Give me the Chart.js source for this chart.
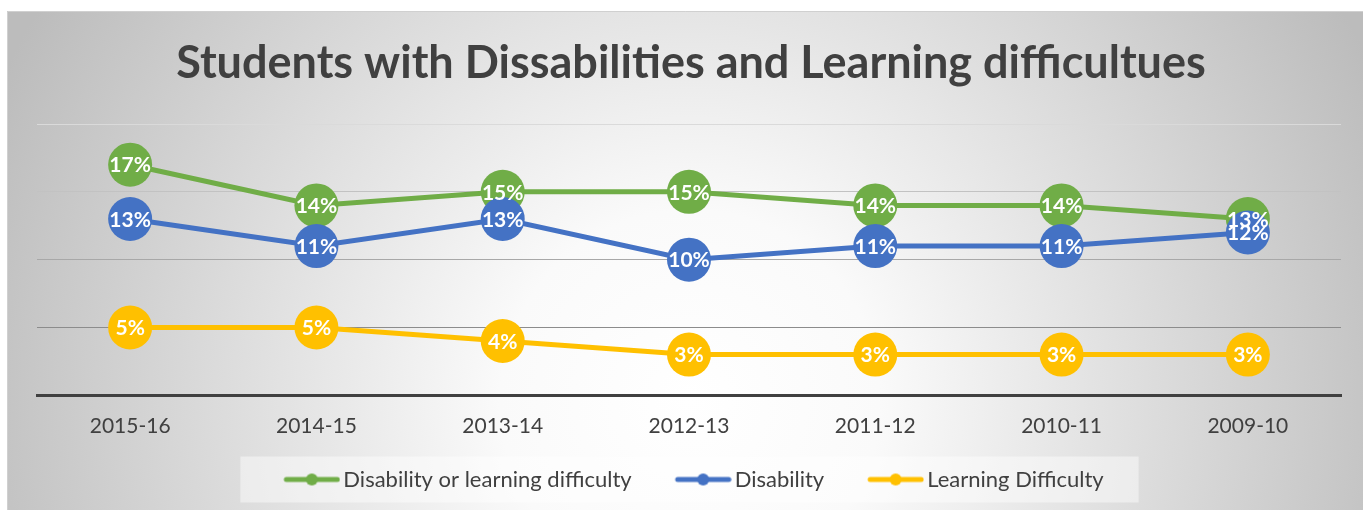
<!DOCTYPE html>
<html>
<head>
<meta charset="utf-8">
<title>Students with Dissabilities and Learning difficultues</title>
<script src="https://cdn.jsdelivr.net/npm/chart.js@4.4.1/dist/chart.umd.min.js"></script>
<style>
  html, body { margin: 0; padding: 0; background: #fff; }
  #wrap { width: 1363px; height: 510px; }
</style>
</head>
<body>
<div id="wrap"><canvas id="lineChart" width="1363" height="510"></canvas></div>
<script>
// chart data
const years = ['2015-16', '2014-15', '2013-14', '2012-13', '2011-12', '2010-11', '2009-10'];
const disabilityOrLearning = [17, 14, 15, 15, 14, 14, 13];
const disability = [13, 11, 13, 10, 11, 11, 12];
const learningDifficulty = [5, 5, 4, 3, 3, 3, 3];
const yTicks = [0, 5, 10, 15, 20];

const GREEN = '#70AD47';
const BLUE = '#4472C4';
const GOLD = '#FFC000';
const TEXT = '#404040';
const FONT = 'Lato';

// legend marker: line with a dot, drawn on the right side of the image
function legendMarker(color) {
    const c = document.createElement('canvas');
    c.width = 96;
    c.height = 14;
    const g = c.getContext('2d');
    g.strokeStyle = color;
    g.lineWidth = 5;
    g.lineCap = 'round';
    g.beginPath();
    g.moveTo(42, 7);
    g.lineTo(93, 7);
    g.stroke();
    g.fillStyle = color;
    g.beginPath();
    g.arc(67.5, 7, 6, 0, Math.PI * 2);
    g.fill();
    return c;
}
const markers = [legendMarker(GREEN), legendMarker(BLUE), legendMarker(GOLD)];

// nudge the legend a little left, like the original
const legendShift = {
    id: 'legendShift',
    afterLayout(chart) {
        const lg = chart.legend;
        const dx = -13;
        lg.left += dx;
        lg.right += dx;
        (lg.legendHitBoxes || []).forEach(b => { b.left += dx; });
    }
};

// gradient backdrop, frame and legend panel
const backdrop = {
    id: 'backdrop',
    beforeDraw(chart) {
        const ctx = chart.ctx;
        const w = chart.width, h = chart.height;
        ctx.save();
        ctx.fillStyle = '#fff';
        ctx.fillRect(0, 0, w, h);
        const grad = ctx.createRadialGradient(690, 400, 0, 690, 400, 760);
        grad.addColorStop(0, '#ffffff');
        grad.addColorStop(0.25, '#fafafa');
        grad.addColorStop(1, '#bcbcbc');
        ctx.fillStyle = grad;
        ctx.fillRect(7, 11, w - 7, h - 11);
        ctx.strokeStyle = '#d0d0d0';
        ctx.lineWidth = 1;
        ctx.beginPath();
        ctx.moveTo(7.5, h);
        ctx.lineTo(7.5, 11.5);
        ctx.lineTo(w, 11.5);
        ctx.stroke();

        const boxes = chart.legend.legendHitBoxes;
        if (boxes && boxes.length) {
            const first = boxes[0], last = boxes[boxes.length - 1];
            const cy = first.top + first.height / 2;
            const left = first.left - 12;
            const right = last.left + last.width + 35;
            ctx.fillStyle = 'rgba(255,255,255,0.45)';
            ctx.fillRect(left, cy - 23, right - left, 46);
        }
        ctx.restore();
    }
};

// white percentage labels inside the markers
const pointLabels = {
    id: 'pointLabels',
    afterDatasetsDraw(chart) {
        const ctx = chart.ctx;
        ctx.save();
        ctx.font = 'bold 21px ' + FONT;
        ctx.fillStyle = '#fff';
        ctx.textAlign = 'center';
        ctx.textBaseline = 'middle';
        chart.data.datasets.forEach((ds, i) => {
            chart.getDatasetMeta(i).data.forEach((pt, j) => {
                ctx.fillText(ds.data[j] + '%', pt.x, pt.y + 1);
            });
        });
        ctx.restore();
    }
};

function series(label, data, color, order) {
    return {
        label: label,
        data: data,
        borderColor: color,
        backgroundColor: color,
        borderWidth: 5,
        tension: 0,
        pointRadius: 22,
        pointHoverRadius: 22,
        pointBorderWidth: 0,
        pointBackgroundColor: color,
        order: order
    };
}

const gridColors = { 0: 'rgba(0,0,0,0)', 5: '#8c8c8c', 10: '#a8a8a8', 15: '#c2c2c2', 20: '#dadada' };

const ctx = document.getElementById('lineChart').getContext('2d');
const chart = new Chart(ctx, {
    type: 'line',
    data: {
        labels: years,
        datasets: [
            series('Disability or learning difficulty', disabilityOrLearning, GREEN, 2),
            series('Disability', disability, BLUE, 1),
            series('Learning Difficulty', learningDifficulty, GOLD, 0)
        ]
    },
    options: {
        responsive: false,
        animation: false,
        events: [],
        layout: {
            padding: { left: 37, right: 18, top: 0, bottom: 9.5 }
        },
        plugins: {
            title: {
                display: true,
                text: 'Students with Dissabilities and Learning difficultues',
                color: TEXT,
                font: { family: FONT, size: 45, weight: 'bold', lineHeight: 1.2 },
                padding: { top: 36, bottom: 34 }
            },
            legend: {
                position: 'bottom',
                labels: {
                    usePointStyle: true,
                    pointStyleWidth: 80,
                    padding: 12,
                    color: TEXT,
                    font: { family: FONT, size: 22 },
                    sort: (a, b) => a.datasetIndex - b.datasetIndex,
                    generateLabels(chart) {
                        const items = Chart.defaults.plugins.legend.labels.generateLabels(chart);
                        items.forEach(item => { item.pointStyle = markers[item.datasetIndex]; });
                        return items;
                    }
                }
            },
            tooltip: { enabled: false }
        },
        scales: {
            x: {
                offset: true,
                grid: { display: false, drawTicks: false },
                border: { display: true, color: TEXT, width: 3 },
                ticks: {
                    color: TEXT,
                    padding: 18,
                    font: { family: FONT, size: 21 }
                }
            },
            y: {
                min: yTicks[0],
                max: yTicks[yTicks.length - 1],
                afterBuildTicks(axis) {
                    axis.ticks = yTicks.map(v => ({ value: v }));
                },
                grid: {
                    drawTicks: false,
                    lineWidth: 1,
                    color: c => gridColors[c.tick.value] || '#c0c0c0'
                },
                border: { display: false },
                ticks: { display: false }
            }
        }
    },
    plugins: [legendShift, backdrop, pointLabels]
});
</script>
</body>
</html>
